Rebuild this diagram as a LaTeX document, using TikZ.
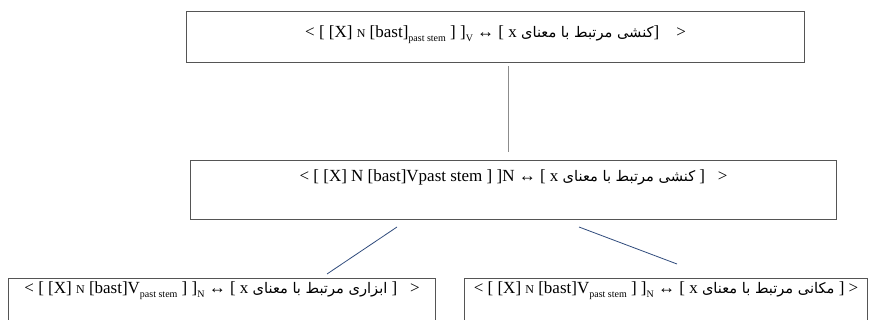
\documentclass[tikz,border=0pt]{standalone}
\usepackage{fontspec}
\setmainfont{Liberation Serif}
\newfontfamily\arabicfont[Script=Arabic,Scale=0.86]{DejaVu Sans}
\TeXXeTstate=1
\usetikzlibrary{positioning}
\definecolor{boxgray}{HTML}{555555}
\definecolor{stemgray}{HTML}{8C8C8C}
\definecolor{linknavy}{HTML}{2F4B7C}
\tikzset{
  cbox/.style={draw=boxgray,line width=1.1pt,inner sep=0pt,anchor=north west,font=\fontsize{17}{20}\selectfont},
  trunk/.style={draw=stemgray,line width=1pt},
  branch/.style={draw=linknavy,line width=0.8pt},
}
\newcommand{\lowsub}[1]{\raisebox{-0.25em}{\fontsize{10}{10}\selectfont #1}}
\newcommand{\smallcat}[1]{{\fontsize{12}{12}\selectfont #1}}
\begin{document}
\begin{tikzpicture}[x=1pt,y=-1pt]
\useasboundingbox (0,0) rectangle (872,320);
\node[cbox, minimum width=618pt, text height=26pt, text depth=25pt] (verb) at (186,11)
  {< [ [X] \smallcat{N} [bast]\lowsub{past stem} ] ]\lowsub{V} ↔ [ x {\arabicfont\beginR کنشی مرتبط با معنای\endR}]\ \ \ \ >};
\node[cbox, minimum width=646pt, text height=21pt, text depth=38pt] (noun) at (190,160)
  {< [ [X] N [bast]Vpast stem ] ]N ↔ [ x {\arabicfont\beginR کنشی مرتبط با معنای\endR} ]\ \ \ >};
\node[cbox, minimum width=427pt, text height=15pt, text depth=42pt] (tool) at (8,278)
  {< [ [X] \smallcat{N} [bast]V\lowsub{past stem} ] ]\lowsub{N} ↔ [ x {\arabicfont\beginR ابزاری مرتبط با معنای\endR} ]\ \ \ >};
\node[cbox, minimum width=403pt, text height=15pt, text depth=42pt] (place) at (464,278)
  {< [ [X] \smallcat{N} [bast]V\lowsub{past stem} ] ]\lowsub{N} ↔ [ x {\arabicfont\beginR مکانی مرتبط با معنای\endR} ] >};
\coordinate (trunkx) at (508,0);
\coordinate (toolend) at (327,274);
\coordinate (toolstart) at (397,227);
\coordinate (placestart) at (579,227);
\coordinate (placeend) at (677,264);
\draw[trunk, shorten <=3pt, shorten >=8pt] (trunkx |- verb.south) -- (trunkx |- noun.north);
\draw[branch] (toolstart) -- (toolend);
\draw[branch] (placestart) -- (placeend);
\end{tikzpicture}
\end{document}
